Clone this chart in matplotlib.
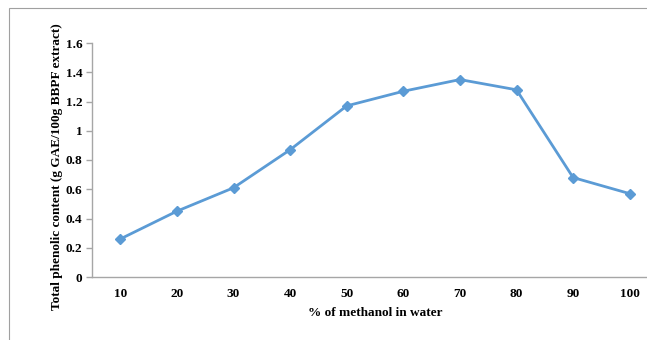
import matplotlib
matplotlib.use("Agg")
import matplotlib.pyplot as plt
from matplotlib.patches import Rectangle

methanol_pct = [10, 20, 30, 40, 50, 60, 70, 80, 90, 100]
phenolic = [0.26, 0.45, 0.61, 0.87, 1.17, 1.27, 1.35, 1.28, 0.68, 0.57]
y_ticks = [0, 0.2, 0.4, 0.6, 0.8, 1, 1.2, 1.4, 1.6]
y_tick_labels = ["0", "0.2", "0.4", "0.6", "0.8", "1", "1.2", "1.4", "1.6"]

plt.rcParams['font.family'] = ['Liberation Serif', 'DejaVu Serif']
W, H = 647, 340
fig = plt.figure(figsize=(W / 100, H / 100), dpi=100)

# outer frame around the chart area
fig.patches.append(Rectangle((9 / W, -0.1), 1.2, 1 - 8 / H + 0.1,
                             transform=fig.transFigure, fill=False,
                             edgecolor="#a0a0a0", linewidth=0.8))

left, right = 92 / W, 658 / W
bottom, top = 1 - 277 / H, 1 - 43 / H
ax = fig.add_axes([left, bottom, right - left, top - bottom])

pos = list(range(len(methanol_pct)))
ax.plot(pos, phenolic, color="#5B9BD5", linewidth=2.0, marker="D",
        markersize=5, markerfacecolor="#5B9BD5", markeredgecolor="#5B9BD5")

ax.set_xlim(-0.5, len(methanol_pct) - 0.5)
ax.set_ylim(0, 1.6)
ax.set_xticks(pos)
ax.set_xticklabels([str(v) for v in methanol_pct])
ax.set_yticks(y_ticks)
ax.set_yticklabels(y_tick_labels)

for s in ["top", "right"]:
    ax.spines[s].set_visible(False)
for s in ["left", "bottom"]:
    ax.spines[s].set_color("#a6a6a6")
    ax.spines[s].set_linewidth(1.0)

ax.tick_params(axis="x", length=0, pad=8, labelsize=9.5)
ax.tick_params(axis="y", length=4, width=1.0, color="#a6a6a6", pad=3, labelsize=9.5)
for lbl in ax.get_xticklabels() + ax.get_yticklabels():
    lbl.set_fontweight("bold")

ax.set_xlabel("% of methanol in water", fontsize=9.5, fontweight="bold")
ax.xaxis.set_label_coords((375 - 92) / (658 - 92), -(307 - 277) / (277 - 43))
ax.set_ylabel("Total phenolic content (g GAE/100g BBPF extract)", fontsize=9.5,
              fontweight="bold")
ax.yaxis.set_label_coords(-(92 - 63) / (658 - 92), (277 - 167) / (277 - 43))

fig.savefig("out.png", dpi=100)
